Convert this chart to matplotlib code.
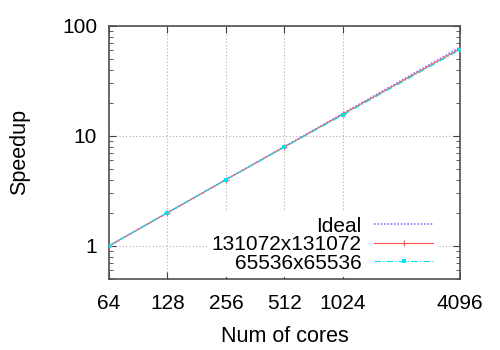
import matplotlib
matplotlib.use("Agg")
import matplotlib.pyplot as plt
from matplotlib.ticker import FixedLocator, NullFormatter, LogLocator

cores = [64, 128, 256, 512, 1024, 4096]
ideal = [1, 2, 4, 8, 16, 64]
speedup_131072 = [1, 2, 4, 7.95, 15.8, 62]
speedup_65536 = [1, 2, 4, 7.9, 15.5, 60.5]
xtick_labels = ["64", "128", "256", "512", "1024", "4096"]

plt.rcParams['font.family'] = ['Liberation Sans', 'DejaVu Sans']
FS = 15

fig = plt.figure(figsize=(5, 3.5), dpi=100)
ax = fig.add_axes([0.218, 0.203, 0.702, 0.723])

ax.plot(cores, ideal, color='#8080ff', linestyle=(0, (1, 1)), linewidth=1.2, label='Ideal', zorder=3)
ax.plot(cores, speedup_131072, color='#ff5050', linewidth=0.8, marker='+', markersize=5,
        markeredgewidth=0.8, label='131072x131072', zorder=4)
ax.plot(cores, speedup_65536, color='#00e5ee', linestyle=(0, (6, 2, 1, 2)), linewidth=0.8,
        marker='s', markersize=3.5, markeredgewidth=0, label='65536x65536', zorder=5)

ax.set_xscale('log', base=2)
ax.set_yscale('log')
ax.set_xlim(64, 4096)
ax.set_ylim(0.5, 100)

ax.xaxis.set_major_locator(FixedLocator(cores))
ax.set_xticklabels(xtick_labels)
ax.xaxis.set_minor_locator(FixedLocator([]))
ax.yaxis.set_major_locator(FixedLocator([1, 10, 100]))
ax.set_yticklabels(["1", "10", "100"])
ax.yaxis.set_minor_locator(LogLocator(base=10, subs=range(2, 10)))
ax.yaxis.set_minor_formatter(NullFormatter())

ax.tick_params(which='both', direction='in', top=True, right=True, labelsize=FS, color='#404040')
ax.tick_params(axis='x', which='major', length=5, pad=10.5)
ax.tick_params(axis='y', which='major', length=5, pad=8.5)
ax.tick_params(which='minor', length=3)
for s in ax.spines.values():
    s.set_color('#505050')
    s.set_linewidth(1.2)

ax.grid(True, which='major', color='#b0b0b0', linestyle=(0, (1, 2)), linewidth=0.8)

ax.set_xlabel('Num of cores', fontsize=FS + 0.5, labelpad=10)
ax.set_ylabel('Speedup', fontsize=FS + 0.5, labelpad=23)

leg = ax.legend(loc='lower right', bbox_to_anchor=(0.94, 0.0), markerfirst=False,
                fontsize=FS, frameon=True, numpoints=1,
                handlelength=2.8, labelspacing=-0.02, handletextpad=0.62,
                borderaxespad=0.1, borderpad=0.2)
leg.get_frame().set_edgecolor('none')
leg.get_frame().set_facecolor('white')
leg.get_frame().set_alpha(1)
leg.get_frame().set_boxstyle('square', pad=0)
leg.set_zorder(2.5)

fig.savefig('out.png', dpi=100)
